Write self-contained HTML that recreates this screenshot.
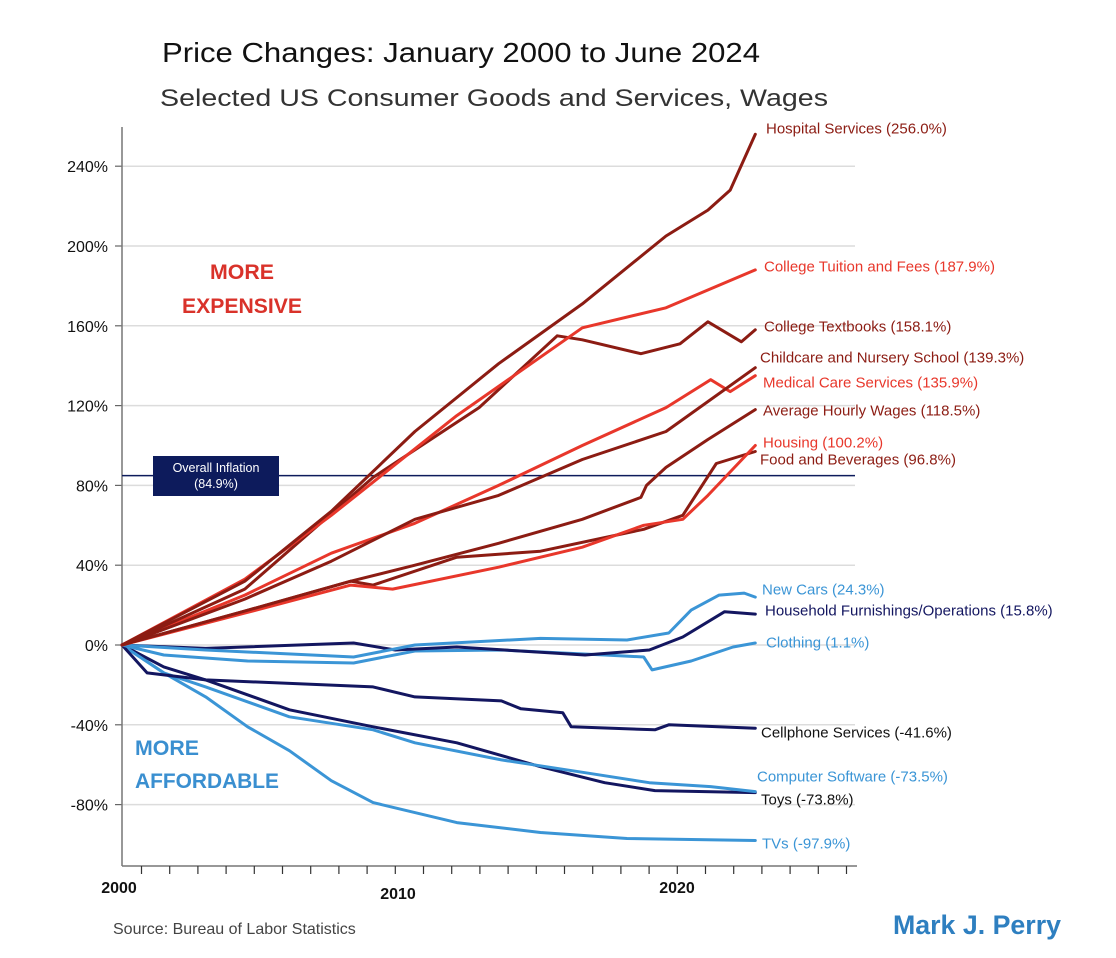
<!DOCTYPE html>
<html><head><meta charset="utf-8">
<style>
html,body{margin:0;padding:0;background:#fff;}
svg{display:block;font-family:"Liberation Sans",sans-serif;}
</style></head>
<body>
<svg id="chart" width="1116" height="958" viewBox="0 0 1116 958">
  <rect x="0" y="0" width="1116" height="958" fill="#fff"/>
  <text x="162" y="62" font-size="28" fill="#111" textLength="598" lengthAdjust="spacingAndGlyphs">Price Changes:  January 2000 to June 2024</text>
  <text x="160" y="106" font-size="24" fill="#333" textLength="668" lengthAdjust="spacingAndGlyphs">Selected US Consumer Goods and Services, Wages</text>
  <g id="grid"></g>
  <g id="yaxis"></g>
  <g id="xaxis"></g>
  <g id="inflation"></g>
  <g id="series"></g>
  <g id="labels"></g>
  <text x="242" y="279" font-size="21" font-weight="600" fill="#d9322a" text-anchor="middle" textLength="64" lengthAdjust="spacingAndGlyphs">MORE</text>
  <text x="242" y="313" font-size="21" font-weight="600" fill="#d9322a" text-anchor="middle" textLength="120" lengthAdjust="spacingAndGlyphs">EXPENSIVE</text>
  <text x="135" y="755" font-size="21" font-weight="600" fill="#3a8fd0" textLength="64" lengthAdjust="spacingAndGlyphs">MORE</text>
  <text x="135" y="788" font-size="21" font-weight="600" fill="#3a8fd0" textLength="144" lengthAdjust="spacingAndGlyphs">AFFORDABLE</text>
  <text x="113" y="934" font-size="16" fill="#444">Source: Bureau of Labor Statistics</text>
  <text x="893" y="934" font-size="27" font-weight="bold" fill="#2e7fc0" textLength="168" lengthAdjust="spacingAndGlyphs">Mark J. Perry</text>
</svg>
<script>
const yTicks = [-80, -40, 0, 40, 80, 120, 160, 200, 240];
const xTickLabels = ["2000", "2010", "2020"];
const inflationValue = 84.9;

const hospitalYears = [0, 4.4, 7.5, 10.5, 13.5, 16.5, 19.5, 21, 21.8, 22.7];
const hospitalVals = [0, 32, 67, 107, 141, 171, 205, 218, 228, 256];
const tuitionYears = [0, 4.4, 7.5, 12, 16.5, 19.5, 22.7];
const tuitionVals = [0, 33, 65, 115, 159, 169, 188];
const textbookYears = [0, 4.4, 9, 12.8, 15.6, 16.5, 18.6, 20, 21, 22.2, 22.7];
const textbookVals = [0, 28, 84, 119, 155, 153, 146, 151, 162, 152, 158];
const childcareYears = [0, 4.4, 7.5, 10.5, 13.5, 16.5, 19.5, 22.7];
const childcareVals = [0, 23, 42, 63, 75, 93, 107, 139];
const medicalYears = [0, 4.4, 7.5, 10.5, 13.5, 16.5, 19.5, 21.1, 21.8, 22.7];
const medicalVals = [0, 25, 46, 61, 80, 100, 119, 133, 127, 135];
const wagesYears = [0, 4.4, 8.2, 10.5, 13.5, 16.5, 18.6, 18.8, 19.5, 21, 22.7];
const wagesVals = [0, 17, 32, 40, 51, 63, 74, 80, 89, 103, 118];
const housingYears = [0, 4.4, 8.2, 9.7, 13.5, 16.5, 18.7, 20.1, 21, 22.7];
const housingVals = [0, 16, 30, 28, 39, 49, 60, 63, 75, 100];
const foodYears = [0, 4.4, 8.2, 9, 12, 15, 18.7, 20.1, 21.3, 22.7];
const foodVals = [0, 17, 32, 30, 44, 47, 58, 65, 91, 97];
const carsYears = [0, 3, 8.3, 10.5, 15, 18.1, 19.6, 20.4, 21.4, 22.3, 22.7];
const carsVals = [0, -2.5, -6, 0, 3.3, 2.5, 6, 17.5, 25, 26, 24];
const furnYears = [0, 3, 8.3, 9.8, 12, 16.6, 18.9, 20.1, 21.6, 22.7];
const furnVals = [0, -1.7, 1, -2.5, -1, -5, -2.5, 4, 16.7, 15.5];
const clothingYears = [0, 1.5, 4.5, 8.3, 10.5, 13.6, 17.3, 18.7, 19, 20.4, 21.9, 22.7];
const clothingVals = [0, -5, -8, -9, -3, -2.5, -5, -6, -12.5, -8, -1, 1];
const cellYears = [0, 0.9, 3, 9, 10.5, 13.6, 14.3, 15.8, 16.1, 19.1, 19.6, 22.7];
const cellVals = [0, -14, -17.5, -21, -26, -28, -32, -34, -41, -42.5, -40, -41.7];
const softwareYears = [0, 1.5, 3, 6, 9, 10.5, 13.6, 16.6, 18.9, 21.1, 22.7];
const softwareVals = [0, -14, -21, -36, -42.5, -49, -57.6, -64, -69, -71, -73.5];
const toysYears = [0, 1.5, 3, 6, 9, 12, 15, 17.3, 19.1, 22.7];
const toysVals = [0, -11, -17.5, -32.5, -41, -49, -61, -69, -73, -74];
const tvYears = [0, 1.5, 3, 4.5, 6, 7.5, 9, 12, 15, 18.1, 22.7];
const tvVals = [0, -14, -26, -41, -53, -68, -79, -89, -94, -97, -98];

const seriesNames = ["Hospital Services (256.0%)","College Tuition and Fees (187.9%)","College Textbooks (158.1%)","Childcare and Nursery School (139.3%)","Medical Care Services (135.9%)","Average Hourly Wages (118.5%)","Housing (100.2%)","Food and Beverages (96.8%)","New Cars (24.3%)","Household Furnishings/Operations (15.8%)","Clothing (1.1%)","Cellphone Services (-41.6%)","Computer Software (-73.5%)","Toys (-73.8%)","TVs (-97.9%)"];

const DR = "#8c1c13", RD = "#e8372b", NV = "#131660", LB = "#3b95d6";
const NS = "http://www.w3.org/2000/svg";
const X0 = 122, XK = 27.9, Y0 = 645, YK = 1.995;
function xs(t){ return X0 + t * XK; }
function ys(v){ return Y0 - v * YK; }
function mk(tag, attrs, parent){ const e = document.createElementNS(NS, tag); for (const k in attrs) e.setAttribute(k, attrs[k]); parent.appendChild(e); return e; }

const grid = document.getElementById('grid');
const yaxis = document.getElementById('yaxis');
const xaxis = document.getElementById('xaxis');
yTicks.forEach(v => {
  const g = mk('line', {x1: X0, x2: 855, y1: ys(v), y2: ys(v), stroke: '#dcdcdc', 'stroke-width': 1.5}, grid);
  
  
  const tk = mk('line', {x1: 115, x2: X0, y1: ys(v), y2: ys(v), stroke: '#666', 'stroke-width': 1.2}, yaxis);
  
  
  const tl = mk('text', {x: 108, y: ys(v) + 6, 'font-size': 16, 'text-anchor': 'end', fill: '#111'}, yaxis);
  tl.textContent = v + '%';
  
  
});
const ya = mk('line', {x1: X0, x2: X0, y1: 127, y2: 866, stroke: '#777', 'stroke-width': 1.5}, yaxis);


const xa = mk('line', {x1: X0, x2: 857, y1: 866, y2: 866, stroke: '#777', 'stroke-width': 1.5}, xaxis);


for (let i = 0; i < 26; i++) {
  const tx = 141.5 + i * 28.2;
  const t = mk('line', {x1: tx, x2: tx, y1: 866, y2: 874, stroke: '#333', 'stroke-width': 1.2}, xaxis);
  
  
}
const xlPos = [[0, 893], [10, 899], [20, 893]];
xTickLabels.forEach((lab, i) => {
  const t = mk('text', {x: xs(xlPos[i][0]) - 3, y: xlPos[i][1], 'font-size': 16, 'font-weight': 'bold', 'text-anchor': 'middle', fill: '#111'}, xaxis);
  t.textContent = lab;
  
  
});

const inf = document.getElementById('inflation');
const il = mk('line', {x1: X0, x2: 855, y1: ys(inflationValue), y2: ys(inflationValue), stroke: '#0d1b5c', 'stroke-width': 1.6}, inf);


const ib = mk('rect', {x: 153, y: 456, width: 126, height: 40, fill: '#0d1b5c'}, inf);


const it1 = mk('text', {x: 216, y: 472, 'font-size': 12.5, fill: '#fff', 'text-anchor': 'middle'}, inf);
it1.textContent = 'Overall Inflation';


const it2 = mk('text', {x: 216, y: 488, 'font-size': 12.5, fill: '#fff', 'text-anchor': 'middle'}, inf);
it2.textContent = '(' + inflationValue + '%)';



const seriesDefs = [
  [hospitalYears, hospitalVals, DR, 766, 128, 'hospital-services'],
  [tuitionYears, tuitionVals, RD, 764, 266, 'college-tuition'],
  [textbookYears, textbookVals, DR, 764, 326, 'college-textbooks'],
  [childcareYears, childcareVals, DR, 760, 357, 'childcare'],
  [medicalYears, medicalVals, RD, 763, 382, 'medical-care'],
  [wagesYears, wagesVals, DR, 763, 410, 'hourly-wages'],
  [housingYears, housingVals, RD, 763, 442, 'housing'],
  [foodYears, foodVals, DR, 760, 459, 'food-beverages'],
  [carsYears, carsVals, LB, 762, 589, 'new-cars'],
  [furnYears, furnVals, NV, 765, 610, 'household-furnishings'],
  [clothingYears, clothingVals, LB, 766, 642, 'clothing'],
  [cellYears, cellVals, NV, 761, 732, 'cellphone-services'],
  [softwareYears, softwareVals, LB, 757, 776, 'computer-software'],
  [toysYears, toysVals, NV, 761, 799, 'toys'],
  [tvYears, tvVals, LB, 762, 843, 'tvs']
];
const labelColors = [DR, RD, DR, DR, RD, DR, RD, DR, LB, NV, LB, '#111', LB, '#111', LB];
const sg = document.getElementById('series');
const lg = document.getElementById('labels');
seriesDefs.slice().reverse().forEach(d => {
  const pts = d[0].map((t, i) => xs(t).toFixed(1) + ',' + ys(d[1][i]).toFixed(1)).join(' ');
  const p = mk('polyline', {points: pts, fill: 'none', stroke: d[2], 'stroke-width': 3, 'stroke-linejoin': 'round', 'stroke-linecap': 'round'}, sg);
  
  
});
seriesDefs.forEach((d, i) => {
  const t = mk('text', {x: d[3], y: d[4] + 5.5, 'font-size': 15, fill: labelColors[i]}, lg);
  t.textContent = seriesNames[i];
  
  
});
</script>
</body></html>
